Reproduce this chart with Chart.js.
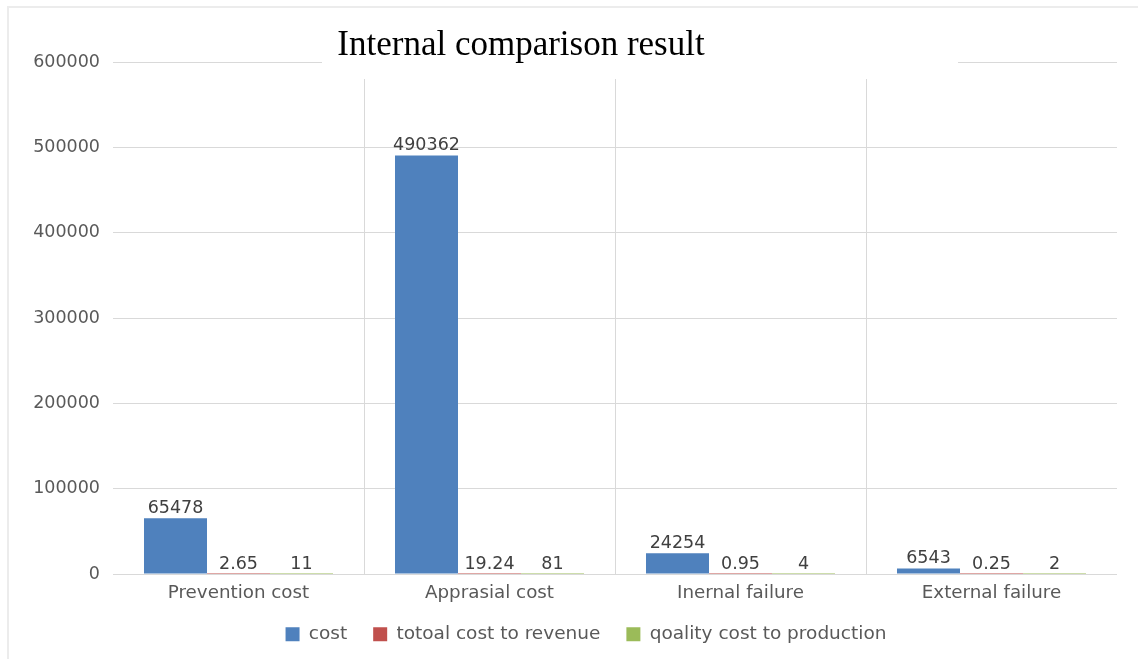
<!DOCTYPE html>
<html>
<head>
<meta charset="utf-8">
<script src="https://cdn.jsdelivr.net/npm/chart.js@4/dist/chart.umd.min.js"></script>
<style>
    html, body { margin: 0; padding: 0; background: #fff; overflow: hidden; }
    .frame {
        position: absolute; left: 7px; top: 6px; width: 1131px; height: 653px;
        border-left: 2px solid #ececec; border-top: 2px solid #ececec;
    }
    .box { position: absolute; left: 0; top: 0; width: 1129px; height: 651px; }
</style>
</head>
<body>
<div class="frame"><div class="box"><canvas id="qualityChart"></canvas></div></div>
<script>
// Chart values
const categories = ['Prevention cost', 'Apprasial cost', 'Inernal failure', 'External failure'];
const seriesNames = ['cost', 'totoal cost to revenue', 'qoality cost to production'];
const costValues = [65478, 490362, 24254, 6543];
const revenueValues = [2.65, 19.24, 0.95, 0.25];
const productionValues = [11, 81, 4, 2];
const yTicks = [0, 100000, 200000, 300000, 400000, 500000, 600000];
const chartTitle = 'Internal comparison result';

const gridColor = '#d9d9d9';
const labelColor = '#595959';

// Value labels above each bar
const valueLabels = {
    id: 'valueLabels',
    afterDatasetsDraw(chart) {
        const ctx = chart.ctx;
        ctx.save();
        ctx.font = '17.5px "DejaVu Sans"';
        ctx.fillStyle = '#404040';
        ctx.textAlign = 'center';
        ctx.textBaseline = 'bottom';
        chart.data.datasets.forEach((ds, i) => {
            chart.getDatasetMeta(i).data.forEach((bar, j) => {
                ctx.fillText(String(ds.data[j]), bar.x, bar.y - 1);
            });
        });
        ctx.restore();
    }
};

// Title sits in a white box that hides the top gridline, like the Excel original
const titleBox = {
    id: 'titleBox',
    beforeDraw(chart) {
        // axis boxes are sized tight, so don't clip their tick labels
        chart.scales.x._computeLabelArea = () => undefined;
        chart.scales.y._computeLabelArea = () => undefined;
    },
    afterDraw(chart) {
        const ctx = chart.ctx;
        ctx.save();
        ctx.fillStyle = '#fff';
        ctx.fillRect(313, 7, 636, 64);
        ctx.font = '35px "Liberation Serif"';
        ctx.fillStyle = '#000';
        ctx.textAlign = 'center';
        ctx.textBaseline = 'alphabetic';
        ctx.fillText(chartTitle, 512, 47);
        ctx.restore();
    }
};

const ctx = document.getElementById('qualityChart').getContext('2d');
new Chart(ctx, {
    type: 'bar',
    data: {
        labels: categories,
        datasets: [
            { label: seriesNames[0], data: costValues, backgroundColor: '#4f81bd' },
            { label: seriesNames[1], data: revenueValues, backgroundColor: '#c0504d' },
            { label: seriesNames[2], data: productionValues, backgroundColor: '#9bbb59' }
        ]
    },
    options: {
        responsive: true,
        maintainAspectRatio: false,
        animation: false,
        layout: { padding: { top: 54, left: 46, right: 21, bottom: 8 } },
        datasets: { bar: { categoryPercentage: 0.753, barPercentage: 1 } },
        plugins: {
            title: { display: false },
            tooltip: { enabled: false },
            legend: {
                position: 'bottom',
                maxHeight: 52,
                labels: {
                    font: { family: 'DejaVu Sans', size: 18.5 },
                    color: labelColor,
                    boxWidth: 14,
                    boxHeight: 14,
                    padding: 26
                }
            }
        },
        scales: {
            x: {
                offset: true,
                afterFit: scale => { scale.height = 25; },
                grid: {
                    offset: true,
                    drawTicks: false,
                    color: c => (c.type !== 'tick' || c.index === 0) ? 'rgba(0,0,0,0)' : gridColor
                },
                border: { display: false },
                ticks: { font: { family: 'DejaVu Sans', size: 18.3 }, color: labelColor, padding: 8 }
            },
            y: {
                min: 0,
                max: 600000,
                afterBuildTicks: scale => { scale.ticks = yTicks.map(v => ({ value: v })); },
                afterFit: scale => { scale.width = 58; },
                grid: { color: gridColor, drawTicks: false },
                border: { display: false },
                ticks: {
                    font: { family: 'DejaVu Sans', size: 17.5 },
                    color: labelColor,
                    padding: 13,
                    callback: v => String(v)
                }
            }
        }
    },
    plugins: [valueLabels, titleBox]
});
</script>
</body>
</html>
